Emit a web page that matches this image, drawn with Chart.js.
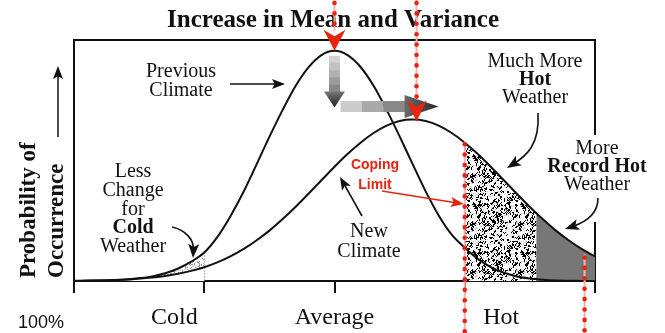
<!DOCTYPE html>
<html>
<head>
<meta charset="utf-8">
<title>Increase in Mean and Variance</title>
<script src="https://cdn.jsdelivr.net/npm/chart.js@4.4.0/dist/chart.umd.min.js"></script>
<style>
  html, body { margin: 0; padding: 0; background: #fff; }
</style>
</head>
<body>
<canvas id="climate-chart" width="665" height="333"></canvas>
<script>
// temperature, in steps of 0.1 (Cold = -1, Average = 0, Hot = 1)
const temps = [-2.0, -1.9, -1.8, -1.7, -1.6, -1.5, -1.4, -1.3, -1.2, -1.1,
  -1.0, -0.9, -0.8, -0.7, -0.6, -0.5, -0.4, -0.3, -0.2, -0.1,
  0.0, 0.1, 0.2, 0.3, 0.4, 0.5, 0.6, 0.7, 0.8, 0.9,
  1.0, 1.1, 1.2, 1.3, 1.4, 1.5, 1.6, 1.7, 1.8, 1.9, 2.0];

// probability of occurrence for each temperature
const previousClimate = [0.000, 0.001, 0.001, 0.003, 0.006, 0.011, 0.019, 0.032, 0.052, 0.080,
  0.118, 0.182, 0.268, 0.368, 0.482, 0.598, 0.708, 0.808, 0.886, 0.937,
  0.955, 0.937, 0.888, 0.810, 0.710, 0.600, 0.485, 0.372, 0.272, 0.192,
  0.138, 0.092, 0.058, 0.034, 0.019, 0.010, 0.005, 0.002, 0.001, 0.000, 0.000];
const newClimate = [0.001, 0.002, 0.003, 0.004, 0.006, 0.010, 0.014, 0.021, 0.030, 0.042,
  0.057, 0.077, 0.102, 0.132, 0.168, 0.209, 0.256, 0.307, 0.362, 0.418,
  0.474, 0.527, 0.574, 0.614, 0.645, 0.664, 0.670, 0.664, 0.645, 0.614,
  0.574, 0.527, 0.474, 0.418, 0.362, 0.307, 0.256, 0.209, 0.168, 0.132, 0.102];

const tickTemps = [-2, -1, 0, 1, 2];
const regionLabels = ['Cold', 'Average', 'Hot'];
const regionTemps = [-1.23, 0, 1.28];

// where the shaded bands and the red markers sit on the temperature axis
const oldMean = 0;
const newMean = 0.63;
const coldLimit = -1;
const copingLimit = 1.0;
const recordStart = 1.55;
const recordLimit = 1.92;

const RED = '#e8230f';
const PINK = '#f7b2a8';
const INK = '#111';
const SERIF = '"Liberation Serif", "Times New Roman", serif';
const SANS = '"Liberation Sans", Arial, sans-serif';

// small integer hash so the stipple textures come out the same every time
function hash(i, j) {
  let h = (Math.imul(i, 374761393) + Math.imul(j, 668265263)) | 0;
  h = Math.imul(h ^ (h >>> 13), 1274126177);
  return ((h ^ (h >>> 16)) >>> 0) / 4294967296;
}

function makeTile(size, paint) {
  const c = document.createElement('canvas');
  c.width = c.height = size;
  const g = c.getContext('2d');
  g.fillStyle = '#fff';
  g.fillRect(0, 0, size, size);
  paint(g, size);
  return c;
}

// short black worms on a pale grey speckle
const hotTile = makeTile(48, (g, n) => {
  const dirs = [[1, 0], [0, 1], [1, 1], [1, -1], [-1, 1], [0, -1]];
  g.fillStyle = '#d4d4d4';
  for (let i = 0; i < n; i++) {
    for (let j = 0; j < n; j++) {
      if (hash(i + 7, j + 3) < 0.2) g.fillRect(i, j, 1, 1);
    }
  }
  g.fillStyle = '#000';
  for (let k = 0; k < 215; k++) {
    let px = Math.floor(hash(k, 11) * n);
    let py = Math.floor(hash(k, 23) * n);
    for (let s = 0; s < 4; s++) {
      g.fillRect((px + n) % n, (py + n) % n, 1, 1);
      const d = dirs[Math.floor(hash(k, s + 40) * dirs.length)];
      px += d[0];
      py += d[1];
    }
  }
});

const coldTile = makeTile(24, (g, n) => {
  for (let i = 0; i < n; i++) {
    for (let j = 0; j < n; j++) {
      const r = hash(i + 91, j + 17);
      if (r < 0.18) { g.fillStyle = '#9a9a9a'; g.fillRect(i, j, 1, 1); }
      else if (r < 0.32) { g.fillStyle = '#d4d4d4'; g.fillRect(i, j, 1, 1); }
    }
  }
});

// filled arrow head with a small notch, tip at (x, y)
function arrowHead(ctx, x, y, angle, len, half, notch = 0.78) {
  ctx.save();
  ctx.translate(x, y);
  ctx.rotate(angle);
  ctx.beginPath();
  ctx.moveTo(0, 0);
  ctx.lineTo(-len, -half);
  ctx.lineTo(-len * notch, 0);
  ctx.lineTo(-len, half);
  ctx.closePath();
  ctx.fill();
  ctx.restore();
}

function straightArrow(ctx, x1, y1, x2, y2, color, width = 1.6) {
  const a = Math.atan2(y2 - y1, x2 - x1);
  ctx.strokeStyle = color;
  ctx.fillStyle = color;
  ctx.lineWidth = width;
  ctx.beginPath();
  ctx.moveTo(x1, y1);
  ctx.lineTo(x2 - Math.cos(a) * 8, y2 - Math.sin(a) * 8);
  ctx.stroke();
  arrowHead(ctx, x2, y2, a, 13, 5);
}

function curvedArrow(ctx, p0, c1, c2, p1) {
  const a = Math.atan2(p1[1] - c2[1], p1[0] - c2[0]);
  ctx.strokeStyle = INK;
  ctx.fillStyle = INK;
  ctx.lineWidth = 1.6;
  ctx.beginPath();
  ctx.moveTo(p0[0], p0[1]);
  ctx.bezierCurveTo(c1[0], c1[1], c2[0], c2[1], p1[0] - Math.cos(a) * 8, p1[1] - Math.sin(a) * 8);
  ctx.stroke();
  arrowHead(ctx, p1[0], p1[1], a, 14, 5.5);
}

// vertical dotted red marker with a faint pink rule behind it
function dottedMarker(ctx, x, y1, y2) {
  ctx.strokeStyle = PINK;
  ctx.lineWidth = 2;
  ctx.beginPath();
  ctx.moveTo(x, y1);
  ctx.lineTo(x, y2);
  ctx.stroke();
  ctx.fillStyle = RED;
  for (let y = y1 + 3; y <= y2; y += 10.4) {
    ctx.beginPath();
    ctx.arc(x, y, 2.3, 0, Math.PI * 2);
    ctx.fill();
  }
}

function textLines(ctx, x, y, lineHeight, lines) {
  ctx.textAlign = 'center';
  ctx.textBaseline = 'middle';
  lines.forEach((l, i) => {
    ctx.font = l.font;
    ctx.fillStyle = l.color || INK;
    ctx.fillText(l.text, x, y + i * lineHeight);
  });
}

const shading = {
  id: 'shading',
  beforeDatasetsDraw(chart) {
    const { ctx, chartArea: area, scales: { x, y } } = chart;
    const prev = chart.getDatasetMeta(0).dataset;
    const next = chart.getDatasetMeta(1).dataset;
    prev.updateControlPoints(area, 'x');
    next.updateControlPoints(area, 'x');

    // area under a curve between two temperatures
    const underCurve = (line, lo, hi, fill) => {
      const x1 = x.getPixelForValue(lo);
      const x2 = x.getPixelForValue(hi);
      ctx.save();
      ctx.beginPath();
      ctx.rect(x1, area.top, x2 - x1, area.bottom - area.top);
      ctx.clip();
      ctx.beginPath();
      line.path(ctx);
      ctx.lineTo(area.right, area.bottom);
      ctx.lineTo(area.left, area.bottom);
      ctx.closePath();
      ctx.fillStyle = fill;
      ctx.fill();
      ctx.restore();
    };

    underCurve(prev, -2, coldLimit, ctx.createPattern(coldTile, 'repeat'));
    underCurve(next, -2, coldLimit, '#fff');
    underCurve(next, copingLimit, recordStart, ctx.createPattern(hotTile, 'repeat'));
    underCurve(next, recordStart, 2, '#777');

    // dotted edge of the cold band
    const cx = x.getPixelForValue(coldLimit);
    const cTop = y.getPixelForValue(previousClimate[temps.indexOf(coldLimit)]);
    ctx.save();
    ctx.strokeStyle = '#666';
    ctx.lineWidth = 1;
    ctx.setLineDash([1, 2]);
    ctx.beginPath();
    ctx.moveTo(cx + 0.5, cTop);
    ctx.lineTo(cx + 0.5, area.bottom);
    ctx.stroke();
    ctx.restore();
  }
};

const annotations = {
  id: 'annotations',
  afterDraw(chart) {
    const { ctx, chartArea: area, scales: { x, y } } = chart;
    ctx.save();

    // title
    ctx.fillStyle = INK;
    ctx.font = `bold 25px ${SERIF}`;
    ctx.textAlign = 'center';
    ctx.textBaseline = 'alphabetic';
    ctx.fillText('Increase in Mean and Variance', 333, 27);

    // rotated axis title and its arrow
    ctx.save();
    ctx.font = `bold 23px ${SERIF}`;
    ctx.textAlign = 'left';
    ctx.translate(35, 278);
    ctx.rotate(-Math.PI / 2);
    ctx.fillText('Probability of', 0, 0);
    ctx.fillText('Occurrence', 0, 28);
    ctx.restore();
    straightArrow(ctx, 58, 137, 58, 66, INK, 1.5);

    ctx.font = `18px ${SANS}`;
    ctx.textAlign = 'left';
    ctx.fillStyle = INK;
    ctx.fillText('100%', 18, 328);

    // region names under the axis
    ctx.font = `24px ${SERIF}`;
    ctx.textAlign = 'center';
    regionLabels.forEach((label, i) => {
      ctx.fillText(label, x.getPixelForValue(regionTemps[i]), 324);
    });

    // gray arrows from the old peak to the new one
    const oldX = x.getPixelForValue(oldMean);
    const oldTop = y.getPixelForValue(previousClimate[temps.indexOf(oldMean)]);
    const newX = x.getPixelForValue(newMean);
    const newTop = y.getPixelForValue(Math.max(...newClimate));

    const vBands = ['#d2d2d2', '#c2c2c2', '#b0b0b0', '#9c9c9c', '#888'];
    const vTop = oldTop + 5, vEnd = newTop - 28;
    const vh = (vEnd - vTop) / vBands.length;
    vBands.forEach((c, i) => {
      ctx.fillStyle = c;
      ctx.fillRect(oldX - 5.5, vTop + i * vh, 11, vh + 0.5);
    });
    let g = ctx.createLinearGradient(0, vEnd, 0, newTop - 12);
    g.addColorStop(0, '#777');
    g.addColorStop(1, '#222');
    ctx.fillStyle = g;
    ctx.beginPath();
    ctx.moveTo(oldX - 10.5, vEnd);
    ctx.lineTo(oldX + 10.5, vEnd);
    ctx.lineTo(oldX, newTop - 12);
    ctx.closePath();
    ctx.fill();

    const hy = newTop - 13;
    const hBands = ['#cbcbcb', '#a9a9a9', '#888'];
    const hStart = oldX + 6, hEnd = newX - 12;
    const hw = (hEnd - hStart) / hBands.length;
    hBands.forEach((c, i) => {
      ctx.fillStyle = c;
      ctx.fillRect(hStart + i * hw, hy - 5.5, hw + 0.5, 11);
    });
    g = ctx.createLinearGradient(hEnd, 0, newX + 22, 0);
    g.addColorStop(0, '#6a6a6a');
    g.addColorStop(1, '#2a2a2a');
    ctx.fillStyle = g;
    ctx.beginPath();
    ctx.moveTo(hEnd, hy - 11.5);
    ctx.lineTo(newX + 22, hy);
    ctx.lineTo(hEnd, hy + 11.5);
    ctx.closePath();
    ctx.fill();

    // red markers: old mean, new mean, coping limit, record limit
    dottedMarker(ctx, oldX, 0, oldTop - 20);
    ctx.fillStyle = RED;
    arrowHead(ctx, oldX, oldTop, Math.PI / 2, 21, 11, 0.7);
    dottedMarker(ctx, newX, 0, newTop - 20);
    ctx.fillStyle = RED;
    arrowHead(ctx, newX, newTop + 2, Math.PI / 2, 21, 10, 0.7);
    const copeX = x.getPixelForValue(copingLimit);
    dottedMarker(ctx, copeX, y.getPixelForValue(0.58), 333);
    const recX = x.getPixelForValue(recordLimit);
    dottedMarker(ctx, recX, y.getPixelForValue(0.11), 333);

    // labels and their pointers
    const reg = `20px ${SERIF}`;
    const bold = `bold 20px ${SERIF}`;
    textLines(ctx, 181, 72, 19, [{ text: 'Previous', font: reg }, { text: 'Climate', font: reg }]);
    straightArrow(ctx, 230, 84, 285, 84, INK);

    textLines(ctx, 133, 172, 18.7, [
      { text: 'Less', font: reg }, { text: 'Change', font: reg }, { text: 'for', font: reg },
      { text: 'Cold', font: bold }, { text: 'Weather', font: reg }]);
    curvedArrow(ctx, [172, 227], [186, 230], [194, 240], [193, 258]);

    textLines(ctx, 369, 232, 20, [{ text: 'New', font: reg }, { text: 'Climate', font: reg }]);
    straightArrow(ctx, 362, 216, 340, 177, INK);

    textLines(ctx, 375, 165, 20, [
      { text: 'Coping', font: `bold 14px ${SANS}`, color: RED },
      { text: 'Limit', font: `bold 14px ${SANS}`, color: RED }]);
    straightArrow(ctx, 382, 191, copeX - 1, 204, RED, 1.5);

    textLines(ctx, 535, 62, 18, [
      { text: 'Much More', font: reg }, { text: 'Hot', font: bold }, { text: 'Weather', font: reg }]);
    curvedArrow(ctx, [538, 113], [540, 145], [526, 156], [507, 168]);

    ctx.fillStyle = '#fff';
    ctx.fillRect(area.right - 4, 135, 8, 87);
    textLines(ctx, 597, 149, 18, [
      { text: 'More', font: reg }, { text: 'Record Hot', font: bold }, { text: 'Weather', font: reg }]);
    curvedArrow(ctx, [598, 198], [598, 214], [586, 222], [565, 229]);

    ctx.restore();
  }
};

new Chart(document.getElementById('climate-chart'), {
  type: 'line',
  data: {
    datasets: [
      {
        label: 'Previous Climate',
        data: temps.map((t, i) => ({ x: t, y: previousClimate[i] })),
        borderColor: INK,
        borderWidth: 2,
        pointRadius: 0,
        cubicInterpolationMode: 'monotone',
        fill: false
      },
      {
        label: 'New Climate',
        data: temps.map((t, i) => ({ x: t, y: newClimate[i] })),
        borderColor: INK,
        borderWidth: 2,
        pointRadius: 0,
        cubicInterpolationMode: 'monotone',
        fill: false
      }
    ]
  },
  options: {
    responsive: false,
    animation: false,
    events: [],
    layout: { padding: { left: 74, right: 70, top: 40, bottom: 40 } },
    plugins: {
      legend: { display: false },
      tooltip: { enabled: false }
    },
    scales: {
      x: {
        type: 'linear',
        position: 'bottom',
        min: -2,
        max: 2,
        afterBuildTicks: axis => { axis.ticks = tickTemps.map(v => ({ value: v })); },
        ticks: { display: false },
        grid: { drawOnChartArea: false, drawTicks: true, tickLength: 12, color: INK, lineWidth: 2 },
        border: { display: true, color: INK, width: 2 }
      },
      xTop: {
        type: 'linear',
        position: 'top',
        min: -2,
        max: 2,
        ticks: { display: false },
        grid: { display: false, drawTicks: false },
        border: { display: true, color: INK, width: 2 }
      },
      y: {
        position: 'left',
        min: 0,
        max: 1,
        ticks: { display: false },
        grid: { display: false, drawTicks: false },
        border: { display: true, color: INK, width: 2 }
      },
      yRight: {
        position: 'right',
        min: 0,
        max: 1,
        ticks: { display: false },
        grid: { display: false, drawTicks: false },
        border: { display: true, color: INK, width: 2 }
      }
    }
  },
  plugins: [shading, annotations]
});
</script>
</body>
</html>
